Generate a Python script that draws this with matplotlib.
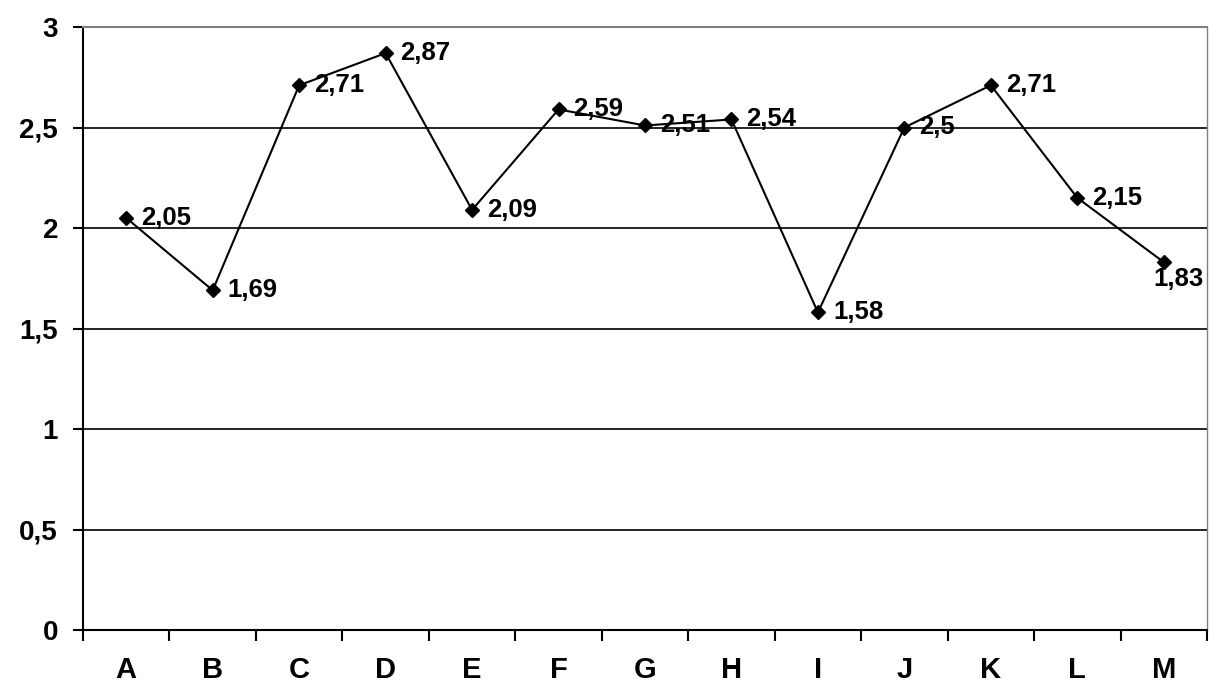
import matplotlib.pyplot as plt
import numpy as np

categories = ["A", "B", "C", "D", "E", "F", "G", "H", "I", "J", "K", "L", "M"]
values = [2.05, 1.69, 2.71, 2.87, 2.09, 2.59, 2.51, 2.54, 1.58, 2.5, 2.71, 2.15, 1.83]
labels = ["2,05", "1,69", "2,71", "2,87", "2,09", "2,59", "2,51", "2,54", "1,58", "2,5", "2,71", "2,15", "1,83"]
yticks = [0, 0.5, 1, 1.5, 2, 2.5, 3]
ytick_labels = ["0", "0,5", "1", "1,5", "2", "2,5", "3"]

plt.rcParams["font.family"] = ["Liberation Sans", "DejaVu Sans"]
plt.rcParams["font.weight"] = "bold"

fig = plt.figure(figsize=(12.1, 6.9), dpi=100)
ax = fig.add_axes([83 / 1210, 1 - 630 / 690, (1207 - 83) / 1210, (630 - 27) / 690])

x = np.arange(len(categories)) + 0.5
ax.plot(x, values, color="black", lw=1.5, marker="D", markersize=7.5, clip_on=False, zorder=3)

for i, (xi, v, lab) in enumerate(zip(x, values, labels)):
    if i == len(categories) - 1:
        # last label gets pushed down/left to stay inside the chart
        ax.annotate(lab, (xi, v), xytext=(-10, -17), textcoords="offset pixels",
                    ha="left", va="center", fontsize=18.5, fontweight="bold", annotation_clip=False)
    else:
        ax.annotate(lab, (xi, v), xytext=(15, 0), textcoords="offset pixels",
                    ha="left", va="center", fontsize=18.5, fontweight="bold", annotation_clip=False)

ax.set_xlim(0, len(categories))
ax.set_ylim(0, 3)
ax.set_yticks(yticks)
ax.set_yticklabels(ytick_labels, fontsize=20, fontweight="bold")
ax.set_xticks(np.arange(len(categories) + 1))
ax.set_xticklabels([])
ax.set_xticks(x, minor=True)
ax.set_xticklabels(categories, minor=True, fontsize=21, fontweight="bold")
ax.tick_params(axis="x", which="major", direction="out", length=8, width=1.5, color="black")
ax.tick_params(axis="x", which="minor", length=0, pad=19)
ax.tick_params(axis="y", direction="out", length=7, width=1.5, pad=11)

for yv in yticks[1:-1]:
    ax.axhline(yv, color="black", lw=1.2, zorder=1)

ax.spines["left"].set_linewidth(1.5)
ax.spines["bottom"].set_linewidth(1.5)
ax.spines["top"].set_color("#808080")
ax.spines["right"].set_color("#808080")
ax.spines["top"].set_linewidth(1.5)
ax.spines["right"].set_linewidth(1.0)

fig.savefig("out.png", dpi=100)
